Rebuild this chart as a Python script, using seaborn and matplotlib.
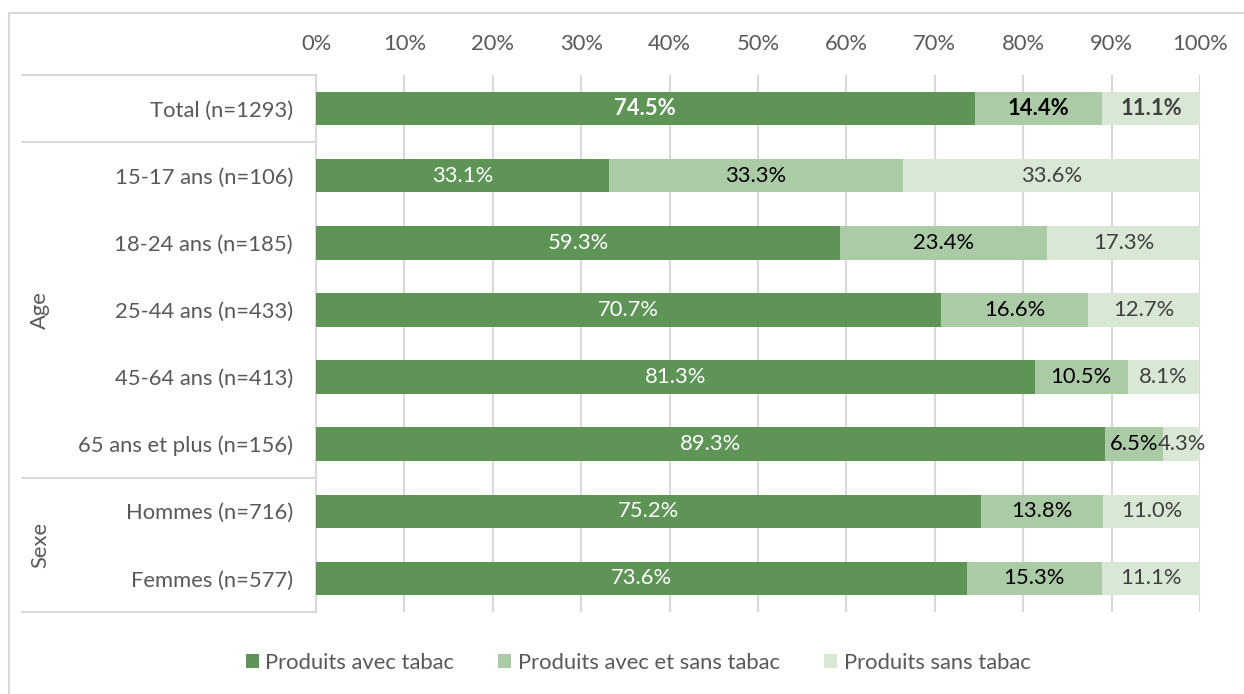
import matplotlib
matplotlib.use("Agg")
import matplotlib.pyplot as plt
import matplotlib.transforms as mtransforms
from matplotlib.patches import Patch, Rectangle
import seaborn as sns
import pandas as pd
import numpy as np

# Data: share of users by product type (%)
categories = [
    "Total (n=1293)",
    "15-17 ans (n=106)",
    "18-24 ans (n=185)",
    "25-44 ans (n=433)",
    "45-64 ans (n=413)",
    "65 ans et plus (n=156)",
    "Hommes (n=716)",
    "Femmes (n=577)",
]
avec_tabac = [74.5, 33.1, 59.3, 70.7, 81.3, 89.3, 75.2, 73.6]
avec_et_sans = [14.4, 33.3, 23.4, 16.6, 10.5, 6.5, 13.8, 15.3]
sans_tabac = [11.1, 33.6, 17.3, 12.7, 8.1, 4.3, 11.0, 11.1]
series_names = ["Produits avec tabac", "Produits avec et sans tabac", "Produits sans tabac"]
x_ticks = [0, 10, 20, 30, 40, 50, 60, 70, 80, 90, 100]
groups = [("Age", 1, 5), ("Sexe", 6, 7)]

colors = ["#5E9557", "#AACBA5", "#D8E8D5"]
label_colors = ["white", "black", "#404040"]
grid_color = "#D9D9D9"
text_color = "#595959"
fs = 15.8

sns.set_theme(style="white")
plt.rcParams["font.family"] = ["Lato", "DejaVu Sans"]

df = pd.DataFrame({
    "cat": categories,
    "s1": avec_tabac,
    "s2": avec_et_sans,
    "s3": sans_tabac,
})
df["c1"] = df["s1"]
df["c2"] = df["s1"] + df["s2"]
df["c3"] = df["s1"] + df["s2"] + df["s3"]

fig = plt.figure(figsize=(12.44, 6.94), dpi=100)
ax = fig.add_axes([316 / 1244, 1 - 612 / 694, 884 / 1244, 537 / 694])

# Frame of the chart area
fig.patches.append(Rectangle((9 / 1244, -0.05), 1.2, 1 - 13 / 694 + 0.05,
                             transform=fig.transFigure, fill=False,
                             edgecolor=grid_color, linewidth=1.5))

# Stacked bars: draw cumulative totals from the widest to the narrowest
for col, color in zip(["c3", "c2", "c1"], colors[::-1]):
    sns.barplot(data=df, x=col, y="cat", orient="h", color=color,
                width=0.5, saturation=1, ax=ax, zorder=3, linewidth=0)

ax.set_xlim(0, 100)
ax.set_ylim(len(categories) - 0.5, -0.5)
ax.set_xticks(x_ticks)
ax.set_xticklabels([f"{t}%" for t in x_ticks])
ax.xaxis.tick_top()
ax.tick_params(axis="x", length=0, pad=15, labelsize=fs, labelcolor=text_color)
ax.tick_params(axis="y", length=0, pad=16.5, labelsize=fs, labelcolor=text_color)
ax.set_xlabel("")
ax.set_ylabel("")
ax.grid(axis="x", color=grid_color, linewidth=1.5, zorder=0)
ax.set_axisbelow(True)
for side in ["top", "right", "bottom"]:
    ax.spines[side].set_visible(False)
ax.spines["left"].set_color(grid_color)
ax.spines["left"].set_linewidth(1.5)

# Segment value labels
for i in range(len(categories)):
    starts = [0, df["c1"][i], df["c2"][i]]
    vals = [df["s1"][i], df["s2"][i], df["s3"][i]]
    for k in range(3):
        ax.text(starts[k] + vals[k] / 2, i, f"{vals[k]:.1f}%",
                ha="center", va="center", fontsize=fs,
                color=label_colors[k],
                fontweight="bold" if i == 0 else "normal", zorder=5)

# Category group separators and group titles
trans = mtransforms.blended_transform_factory(ax.transAxes, ax.transData)
x_left = (22 - 316) / 884
for yb in [-0.5, 0.5, 5.5, 7.5]:
    ax.plot([x_left, 0], [yb, yb], color=grid_color, linewidth=1.5,
            transform=trans, clip_on=False)
for name, a, b in groups:
    ax.text((40 - 316) / 884, (a + b) / 2, name, rotation=90,
            ha="center", va="center", fontsize=fs, color=text_color,
            transform=trans)

handles = [Patch(facecolor=c, edgecolor="none") for c in colors]
fig.legend(handles, series_names, loc="center", bbox_to_anchor=(638 / 1244, 1 - 663 / 694),
           ncol=3, frameon=False, fontsize=fs, labelcolor=text_color,
           handlelength=0.6, handleheight=0.6, handletextpad=0.3, columnspacing=2.0)

fig.savefig("out.png", dpi=100)
